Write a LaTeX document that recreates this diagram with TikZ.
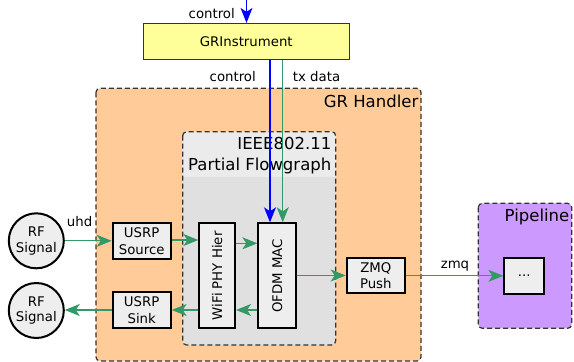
\documentclass[tikz,border=0pt]{standalone}
\usepackage{fontspec}
\setmainfont{DejaVu Sans}
\usetikzlibrary{arrows.meta,calc}
\definecolor{flowgreen}{HTML}{339966}
\definecolor{handlerfill}{HTML}{FFCC99}
\definecolor{pipefill}{HTML}{CC99FF}
\definecolor{instrfill}{HTML}{FFFF99}
\definecolor{boxfill}{HTML}{EEEEEE}
\definecolor{headfill}{HTML}{EBEBEB}
\definecolor{bodyfill}{HTML}{E0E0E0}
\definecolor{dashgray}{HTML}{333333}
\tikzset{
  blockbox/.style={draw=black, line width=2pt, fill=boxfill, inner sep=0pt, align=center,
    font=\fontsize{13.3}{16.5}\selectfont},
  sigcircle/.style={circle, draw=black, line width=2pt, fill=boxfill, inner sep=0pt,
    minimum size=55pt, align=center, font=\fontsize{13.3}{15.5}\selectfont},
  flowarrow/.style={draw=flowgreen, line width=1.1pt,
    -{Stealth[length=15pt,width=12pt,inset=4pt]}},
  ctrlarrow/.style={draw=blue, line width=1.1pt,
    -{Stealth[length=15pt,width=12pt,inset=4pt]}},
  groupbox/.style={draw=dashgray, dash pattern=on 5pt off 3pt, line width=1.2pt, rounded corners=4pt},
  grouplabel/.style={font=\fontsize{16.5}{20.7}\selectfont, inner sep=0pt, align=right},
  edgelabel/.style={font=\fontsize{13.3}{15}\selectfont, inner sep=0pt},
}
\begin{document}
\begin{tikzpicture}[x=1pt,y=-1pt]
\useasboundingbox (0,0) rectangle (574,362);
% GR Handler group
\path[groupbox, fill=handlerfill] (96,88.3) rectangle (421,361);
\node[grouplabel, anchor=base east] (grh) at (418.5,107.7) {GR Handler};
% IEEE group
\fill[bodyfill, rounded corners=4pt] (182.7,131.7) rectangle (335.7,345);
\fill[headfill, rounded corners=4pt] (182.7,131.7) rectangle (335.7,176.7);
\fill[headfill] (182.7,160) rectangle (335.7,176.7);
\path[groupbox] (182.7,131.7) rectangle (335.7,345);
\node[grouplabel, anchor=base east] (ieee) at (331.5,149.3) {IEEE802.11};
\node[grouplabel, anchor=base east] (pfg) at (331.5,170) {Partial Flowgraph};
% Pipeline group
\path[groupbox, fill=pipefill] (478.3,203.3) rectangle (571.7,328.3);
\node[grouplabel, anchor=base east] (pipe) at (569.5,221.7) {Pipeline};
% GRInstrument
\node[draw=dashgray, line width=0.8pt, fill=instrfill, minimum width=206pt, minimum height=36pt,
  inner sep=0pt, font=\fontsize{13.3}{16}\selectfont] (gri) at (246.3,41.3) {GRInstrument};
% nodes
\node[sigcircle] (rf1) at (36.3,240.8) {RF\\Signal};
\node[sigcircle] (rf2) at (36.3,310.5) {RF\\Signal};
\node[blockbox, minimum width=58pt, minimum height=36pt] (src) at (141.7,241.3) {USRP\\Source};
\node[blockbox, minimum width=58pt, minimum height=36.6pt] (sink) at (141.7,310) {USRP\\Sink};
\node[blockbox, minimum width=35.7pt, minimum height=105pt] (phy) at (217.2,275.8) {};
\node[rotate=90, font=\fontsize{13.3}{16}\selectfont, inner sep=0pt] (phyt) at (phy.center) {WiFi PHY Hier};
\node[blockbox, minimum width=37.7pt, minimum height=105pt] (mac) at (277.2,275.8) {};
\node[rotate=90, font=\fontsize{13.3}{16}\selectfont, inner sep=0pt] (mact) at (mac.center) {OFDM MAC};
\node[blockbox, minimum width=58.3pt, minimum height=35.6pt] (zmq) at (375.8,275.5) {ZMQ\\Push};
\node[blockbox, minimum width=39.7pt, minimum height=36.3pt] (dots) at (524.2,275.8) {...};
% helper coordinates
\coordinate (ctop) at (246.5,0);
\coordinate (cx) at (270,0);
\coordinate (tx) at (282.7,0);
\coordinate (ya) at (0,240);
\coordinate (yb) at (0,243.3);
\coordinate (yc) at (0,310);
% connectors
\draw[ctrlarrow] (ctop) -- (ctop |- gri.north);
\node[edgelabel, anchor=base east] (lctl1) at (235,18.3) {control};
\draw[ctrlarrow] (gri.south -| cx) -- (mac.north -| cx);
\draw[flowarrow] (gri.south -| tx) -- (mac.north -| tx);
\node[edgelabel, anchor=base east] (lctl2) at (256,81) {control};
\node[edgelabel, anchor=base west] (ltx) at (292.7,81) {tx data};
\draw[flowarrow] (rf1.east) -- (rf1.east -| src.west);
\node[edgelabel, anchor=base west] (luhd) at (66.7,226.7) {uhd};
\draw[flowarrow] (src.east |- ya) -- (phy.west |- ya);
\draw[flowarrow] (phy.east |- yb) -- (mac.west |- yb);
\draw[flowarrow] (mac.west |- yc) -- (phy.east |- yc);
\draw[flowarrow] (phy.west |- yc) -- (sink.east |- yc);
\draw[flowarrow] (sink.west |- yc) -- (rf2.east |- yc);
\draw[flowarrow] (mac.east |- zmq.west) -- (zmq.west);
\draw[flowarrow] (zmq.east |- dots.west) -- (dots.west);
\node[edgelabel, anchor=base] (lzmq) at (455,268.3) {zmq};
\end{tikzpicture}
\end{document}
